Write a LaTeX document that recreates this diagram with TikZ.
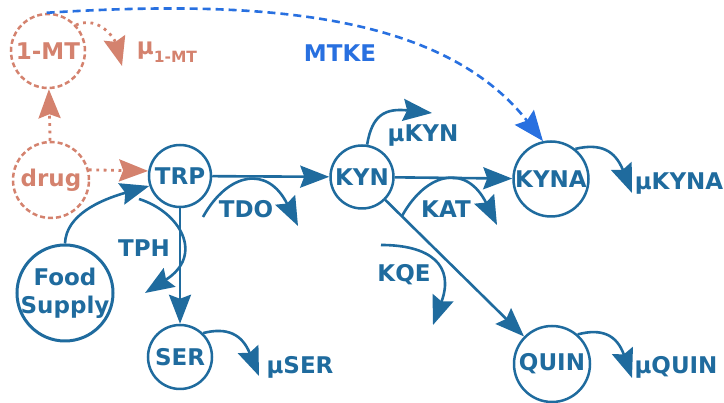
\documentclass[tikz,border=0pt]{standalone}
\usepackage{fontspec}
\setmainfont{DejaVu Sans}
\usetikzlibrary{arrows.meta}
\definecolor{pblue}{HTML}{1F6B9E}
\definecolor{salmon}{HTML}{D4826E}
\definecolor{mblue}{HTML}{2870E0}
\begin{document}
\begin{tikzpicture}[x=1pt,y=1pt,
  every node/.style={font=\bfseries\fontsize{23}{28}\selectfont},
  st/.style={circle, draw=pblue, line width=2.5pt, text=pblue, inner sep=0pt},
  ctl/.style={circle, draw=salmon, line width=2.5pt, text=salmon, inner sep=0pt, dash pattern=on 5pt off 3pt},
  tipA/.style={-{Stealth[length=29pt,width=22pt,inset=4pt]}},
  flow/.style={draw=pblue, line width=2.6pt, tipA},
  dotl/.style={draw=salmon, line width=2.8pt, dash pattern=on 2.8pt off 4.6pt, tipA},
  mtke/.style={draw=mblue, line width=2.6pt, dash pattern=on 8pt off 5pt, -{Stealth[length=30pt,width=24pt,inset=4pt]}},
  lab/.style={text=pblue, anchor=base},
  slab/.style={text=salmon, anchor=base},
]
\useasboundingbox (0,0) rectangle (724,403);

% nodes
\node[ctl, minimum size=74pt] (MT1) at (48,352) {1-MT};
\node[ctl, minimum size=76pt] (drug) at (51,223) {drug};
\node[st, minimum size=62pt] (TRP) at (180,227) {TRP};
\node[st, minimum size=96pt, line width=3pt, align=center, inner sep=-4pt] (Food) at (65,110) {Food\\Supply};
\node[st, minimum size=63pt] (KYN) at (362,226) {KYN};
\node[st, minimum size=75pt, inner sep=-2pt] (KYNA) at (551,224) {KYNA};
\node[st, minimum size=76pt] (QUIN) at (552,39) {QUIN};
\node[st, minimum size=64pt] (SER) at (180,46) {SER};

% free ends
\coordinate (m1) at (122,337);
\coordinate (tdoS) at (203,186);
\coordinate (tdoE) at (298,177);
\coordinate (katS) at (402,187);
\coordinate (katE) at (497,178);
\coordinate (tphS) at (139,204);
\coordinate (tphE) at (145,110);
\coordinate (kqeS) at (381,158);
\coordinate (kqeE) at (433,78);
\coordinate (muKYN) at (432,290);
\coordinate (muKYNA) at (632,210);
\coordinate (muQUIN) at (632,25);
\coordinate (muSER) at (259,27);

% control / drug edges
\draw[mtke] (MT1.92) .. controls (250,403) and (440,393) .. (KYNA.102);
\draw[dotl] (MT1.43) .. controls (100,388) and (115,363) .. (m1);
\draw[dotl] (drug) -- (MT1);
\draw[dotl] (drug.15) -- (TRP.171);

% main flow
\draw[flow] (Food.north) .. controls (66,188) and (100,203) .. (TRP.198);
\draw[flow] (TRP) -- (KYN);
\draw[flow] (TRP) -- (SER);
\draw[flow] (KYN) -- (KYNA);
\draw[flow] (KYN) -- (QUIN);

% enzymes
\draw[flow] (tdoS) .. controls (228,231) and (268,238) .. (tdoE);
\draw[flow] (katS) .. controls (427,232) and (467,239) .. (katE);
\draw[flow] (tphS) .. controls (180,191) and (205,148) .. (tphE);
\draw[flow] (kqeS) .. controls (430,158) and (455,138) .. (kqeE);

% losses
\draw[flow] (KYN.81) .. controls (372,288) and (385,295) .. (muKYN);
\draw[flow] (KYNA.51) .. controls (600,260) and (615,253) .. (muKYNA);
\draw[flow] (QUIN.49) .. controls (602,75) and (617,68) .. (muQUIN);
\draw[flow] (SER.46) .. controls (227,76) and (242,69) .. (muSER);

% labels
\node[text=mblue, anchor=base] (lMTKE) at (340,341) {MTKE};
\node[slab] (lmu1) at (167,348) {μ\raisebox{-8pt}{\fontsize{15.5}{15.5}\selectfont 1-MT}};
\node[lab] (lTDO) at (246,185) {TDO};
\node[lab] (lTPH) at (144,146) {TPH};
\node[lab] (lKAT) at (446,185) {KAT};
\node[lab] (lKQE) at (404,121) {KQE};
\node[lab] (lmuKYN) at (423,261) {μKYN};
\node[lab] (lmuKYNA) at (679,213) {μKYNA};
\node[lab] (lmuQUIN) at (676,29) {μQUIN};
\node[lab] (lmuSER) at (300,29) {μSER};
\end{tikzpicture}
\end{document}
